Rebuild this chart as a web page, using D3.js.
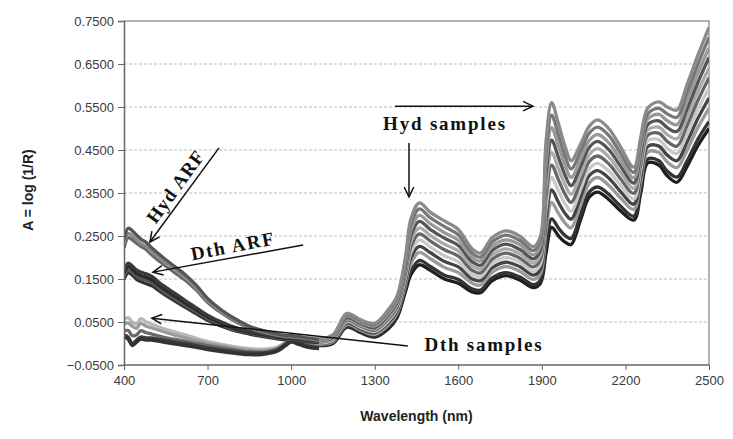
<!DOCTYPE html>
<html><head><meta charset="utf-8">
<script src="https://cdn.jsdelivr.net/npm/d3@7"></script>
<style>body{margin:0;background:#fff}svg{display:block}</style>
</head><body>
<svg id="c" width="733" height="439"></svg>
<script>
// ---- axis ticks ----
const xTicks = [400,700,1000,1300,1600,1900,2200,2500];
const yTicks = [-0.05,0.05,0.15,0.25,0.35,0.45,0.55,0.65,0.75];

// ---- wavelength grids (nm) ----
const wlLeft = [400,415,430,445,460,480,500,540,580,620,660,700,750,800,850,900,950,980,1000,1030,1060,1100];
const wlHyd = [1100,1150,1200,1250,1300,1350,1380,1410,1430,1460,1500,1550,1600,1650,1680,1720,1770,1820,1870,1895,1915,1935,1960,1985,2005,2040,2070,2100,2140,2180,2230,2255,2280,2320,2350,2385,2420,2460,2500];

// ---- Hyd ARF spectra ----
const hydArf1 = [0.240,0.268,0.262,0.252,0.243,0.235,0.222,0.200,0.180,0.160,0.135,0.105,0.078,0.057,0.040,0.030,0.022,0.019,0.018,0.016,0.013,0.010];
const hydArf2 = [0.230,0.256,0.250,0.241,0.233,0.225,0.213,0.192,0.172,0.153,0.129,0.100,0.074,0.054,0.038,0.028,0.020,0.017,0.016,0.014,0.012,0.008];
const hydArf3 = [0.222,0.246,0.241,0.233,0.226,0.218,0.206,0.185,0.166,0.147,0.124,0.096,0.071,0.051,0.036,0.026,0.019,0.016,0.015,0.013,0.010,0.007];
// ---- Dth ARF spectra ----
const dthArf1 = [0.170,0.187,0.180,0.171,0.166,0.162,0.156,0.135,0.118,0.100,0.083,0.066,0.050,0.037,0.028,0.022,0.017,0.015,0.014,0.012,0.010,0.008];
const dthArf2 = [0.163,0.179,0.173,0.163,0.158,0.154,0.148,0.128,0.111,0.094,0.078,0.062,0.047,0.034,0.026,0.020,0.015,0.013,0.012,0.010,0.008,0.006];
const dthArf3 = [0.156,0.171,0.166,0.156,0.151,0.147,0.141,0.122,0.105,0.089,0.073,0.058,0.044,0.031,0.024,0.018,0.013,0.011,0.010,0.008,0.006,0.004];
const dthArf4 = [0.149,0.164,0.159,0.149,0.144,0.139,0.134,0.116,0.100,0.084,0.069,0.054,0.040,0.029,0.022,0.016,0.011,0.009,0.008,0.006,0.004,0.002];
// ---- Dth samples ----
const dthS1 = [0.055,0.060,0.050,0.045,0.058,0.050,0.045,0.035,0.028,0.020,0.012,0.005,-0.002,-0.008,-0.012,-0.013,-0.008,0.003,0.010,0.005,0.000,-0.003];
const dthS2 = [0.045,0.048,0.040,0.035,0.047,0.040,0.036,0.028,0.020,0.013,0.006,0.000,-0.006,-0.012,-0.016,-0.017,-0.011,0.001,0.009,0.003,-0.003,-0.006];
const dthS3 = [0.030,0.030,0.018,0.020,0.030,0.025,0.022,0.015,0.010,0.005,0.000,-0.005,-0.010,-0.015,-0.019,-0.020,-0.013,0.000,0.008,0.002,-0.004,-0.008];
const dthS4 = [0.020,0.015,0.000,0.008,0.015,0.013,0.013,0.008,0.004,0.000,-0.005,-0.010,-0.015,-0.019,-0.022,-0.022,-0.015,-0.002,0.006,0.000,-0.006,-0.010];
const dthS5 = [0.015,0.010,-0.005,0.003,0.010,0.008,0.008,0.003,-0.001,-0.005,-0.009,-0.014,-0.019,-0.023,-0.026,-0.025,-0.018,-0.005,0.003,-0.003,-0.009,-0.012];
// ---- Hyd samples ----
const hyd1 = [0.010,0.020,0.070,0.055,0.047,0.080,0.110,0.200,0.290,0.327,0.305,0.285,0.265,0.220,0.210,0.245,0.262,0.250,0.225,0.250,0.470,0.560,0.510,0.455,0.425,0.465,0.505,0.520,0.500,0.460,0.410,0.480,0.547,0.562,0.550,0.543,0.600,0.670,0.735];
const hyd2 = [0.009,0.018,0.067,0.052,0.044,0.076,0.105,0.192,0.277,0.313,0.292,0.272,0.253,0.210,0.201,0.235,0.252,0.240,0.216,0.239,0.444,0.531,0.484,0.433,0.406,0.448,0.489,0.503,0.484,0.445,0.398,0.467,0.534,0.547,0.534,0.526,0.581,0.649,0.712];
const hyd3 = [0.007,0.016,0.064,0.049,0.041,0.071,0.100,0.184,0.264,0.298,0.278,0.258,0.240,0.200,0.192,0.225,0.241,0.230,0.206,0.228,0.418,0.502,0.458,0.411,0.386,0.430,0.472,0.486,0.467,0.430,0.385,0.454,0.522,0.533,0.518,0.509,0.562,0.628,0.688];
const hyd4 = [0.006,0.014,0.060,0.046,0.037,0.067,0.095,0.176,0.251,0.284,0.265,0.245,0.228,0.190,0.182,0.215,0.231,0.219,0.197,0.217,0.392,0.473,0.432,0.389,0.367,0.413,0.456,0.470,0.451,0.415,0.373,0.441,0.509,0.518,0.502,0.493,0.543,0.607,0.665];
const hyd5 = [0.004,0.012,0.057,0.043,0.034,0.062,0.090,0.168,0.238,0.269,0.251,0.231,0.215,0.180,0.173,0.205,0.220,0.209,0.187,0.206,0.366,0.444,0.406,0.367,0.347,0.395,0.439,0.453,0.434,0.400,0.361,0.428,0.496,0.503,0.486,0.476,0.524,0.586,0.641];
const hyd6 = [0.003,0.010,0.054,0.040,0.031,0.058,0.085,0.160,0.225,0.255,0.238,0.218,0.203,0.170,0.164,0.195,0.210,0.199,0.178,0.195,0.340,0.415,0.380,0.345,0.328,0.378,0.423,0.436,0.418,0.385,0.349,0.415,0.484,0.489,0.470,0.459,0.505,0.565,0.618];
const hyd7 = [0.001,0.008,0.051,0.037,0.028,0.053,0.080,0.152,0.212,0.241,0.224,0.204,0.190,0.160,0.155,0.185,0.200,0.189,0.168,0.184,0.314,0.386,0.354,0.323,0.308,0.360,0.406,0.419,0.401,0.370,0.336,0.402,0.471,0.474,0.454,0.442,0.486,0.544,0.594];
const hyd8 = [0.000,0.006,0.048,0.034,0.025,0.049,0.075,0.144,0.199,0.226,0.211,0.191,0.178,0.150,0.146,0.175,0.189,0.179,0.159,0.173,0.288,0.357,0.328,0.301,0.289,0.343,0.390,0.402,0.385,0.355,0.324,0.389,0.458,0.459,0.438,0.425,0.467,0.523,0.571];
const hyd9 = [-0.002,0.004,0.044,0.031,0.021,0.044,0.070,0.136,0.186,0.212,0.197,0.177,0.165,0.140,0.136,0.165,0.179,0.168,0.149,0.162,0.262,0.328,0.302,0.279,0.269,0.325,0.373,0.386,0.368,0.340,0.312,0.376,0.445,0.444,0.422,0.409,0.448,0.502,0.547];
const hyd10 = [-0.004,0.001,0.040,0.027,0.017,0.038,0.063,0.126,0.169,0.193,0.179,0.159,0.149,0.127,0.124,0.152,0.165,0.155,0.137,0.148,0.228,0.290,0.268,0.250,0.244,0.302,0.352,0.364,0.347,0.321,0.296,0.359,0.429,0.425,0.401,0.387,0.423,0.475,0.516];
const hyd11 = [-0.005,0.000,0.038,0.025,0.015,0.035,0.060,0.120,0.160,0.183,0.170,0.150,0.140,0.120,0.118,0.145,0.158,0.148,0.130,0.140,0.210,0.270,0.250,0.235,0.230,0.290,0.340,0.352,0.335,0.310,0.287,0.350,0.420,0.415,0.390,0.375,0.410,0.460,0.500];

const svg = d3.select("#c");
const L=124,R=709,T=21,B=365;
const x = d3.scaleLinear().domain([400,2500]).range([L,R]);
const y = d3.scaleLinear().domain([-0.05,0.75]).range([B,T]);

// grid
svg.append("g").selectAll("line").data(yTicks.filter(v=>v>-0.05 && v<0.75)).join("line")
  .attr("x1",L).attr("x2",R).attr("y1",d=>y(d)).attr("y2",d=>y(d))
  .attr("stroke","#bdbdbd").attr("stroke-width",1).attr("stroke-dasharray","3,2");
// frame top/right
svg.append("path").attr("d",`M${L},${T}H${R}V${B}`).attr("fill","none").attr("stroke","#9a9a9a").attr("stroke-width",1.5);

svg.append("defs").append("clipPath").attr("id","cp").append("rect")
  .attr("x",L).attr("y",T).attr("width",R-L).attr("height",B-T);
const plot = svg.append("g").attr("clip-path","url(#cp)");
const line = d3.line().x(d=>x(d[0])).y(d=>y(d[1])).curve(d3.curveCatmullRom.alpha(0.5));

const series = [
  {wl:wlLeft, v:dthS1, c:"#b8b8b8"},
  {wl:wlLeft, v:dthS2, c:"#9a9a9a"},
  {wl:wlLeft, v:dthS3, c:"#6a6a6a"},
  {wl:wlLeft, v:dthS4, c:"#3c3c3c"},
  {wl:wlLeft, v:dthS5, c:"#333333"},
  {wl:wlLeft, v:dthArf4, c:"#333333"},
  {wl:wlLeft, v:dthArf3, c:"#555555"},
  {wl:wlLeft, v:dthArf2, c:"#2a2a2a"},
  {wl:wlLeft, v:dthArf1, c:"#3a3a3a"},
  {wl:wlLeft, v:hydArf3, c:"#666666"},
  {wl:wlLeft, v:hydArf2, c:"#8a8a8a"},
  {wl:wlLeft, v:hydArf1, c:"#555555"},
  {wl:wlHyd, v:hyd11, c:"#1e1e1e"},
  {wl:wlHyd, v:hyd10, c:"#333333"},
  {wl:wlHyd, v:hyd9, c:"#9a9a9a"},
  {wl:wlHyd, v:hyd8, c:"#444444"},
  {wl:wlHyd, v:hyd7, c:"#c8c8c8"},
  {wl:wlHyd, v:hyd6, c:"#666666"},
  {wl:wlHyd, v:hyd5, c:"#aaaaaa"},
  {wl:wlHyd, v:hyd4, c:"#555555"},
  {wl:wlHyd, v:hyd3, c:"#999999"},
  {wl:wlHyd, v:hyd2, c:"#777777"},
  {wl:wlHyd, v:hyd1, c:"#8a8a8a"}
];
plot.selectAll("path.s").data(series).join("path").attr("class","s")
  .attr("d",s=>line(s.wl.map((w,i)=>[w,s.v[i]])))
  .attr("fill","none").attr("stroke",s=>s.c).attr("stroke-width",3.3).attr("stroke-linejoin","round");

// axes
const ya = svg.append("g").attr("transform",`translate(${L},0)`)
  .call(d3.axisLeft(y).tickValues(yTicks).tickFormat(d3.format(".4f")).tickSizeOuter(0).tickSize(6).tickPadding(4));
const xa = svg.append("g").attr("transform",`translate(0,${B})`)
  .call(d3.axisBottom(x).tickValues(xTicks).tickFormat(d3.format("d")).tickSizeOuter(0).tickSize(5).tickPadding(6));
[ya,xa].forEach(a=>{
  a.select(".domain").attr("stroke","#666").attr("stroke-width",1.5);
  a.selectAll(".tick line").attr("stroke","#666");
  a.selectAll("text").attr("font-family","'Liberation Sans',Arial,sans-serif").attr("font-size",13).attr("fill","#3a3a3a");
});
xa.select(".domain").attr("d",`M${L},0H${R}`);

svg.append("text").attr("x",(L+R)/2).attr("y",421).attr("text-anchor","middle")
  .attr("font-family","'Liberation Sans',Arial,sans-serif").attr("font-weight","bold").attr("font-size",14).attr("fill","#222")
  .text("Wavelength (nm)");
svg.append("text").attr("transform","translate(33,190) rotate(-90)").attr("text-anchor","middle")
  .attr("font-family","'Liberation Sans',Arial,sans-serif").attr("font-weight","bold").attr("font-size",14).attr("fill","#222")
  .text("A = log (1/R)");

// annotations (data coordinates)
const arrows = [
  {from:[741,0.455], to:[493,0.236]},
  {from:[1043,0.229], to:[504,0.166]},
  {from:[1419,-0.006], to:[500,0.059]},
  {from:[1373,0.552], to:[1868,0.552]},
  {from:[1423,0.466], to:[1423,0.341]}
];
const ann = svg.append("g");
arrows.forEach(a=>{
  const x1=x(a.from[0]), y1=y(a.from[1]), x2=x(a.to[0]), y2=y(a.to[1]);
  ann.append("line").attr("x1",x1).attr("y1",y1).attr("x2",x2).attr("y2",y2).attr("stroke","#111").attr("stroke-width",1.5);
  const ang=Math.atan2(y2-y1,x2-x1), len=11, sp=0.45;
  const p1=[x2-len*Math.cos(ang-sp), y2-len*Math.sin(ang-sp)];
  const p2=[x2-len*Math.cos(ang+sp), y2-len*Math.sin(ang+sp)];
  ann.append("path").attr("d",`M${p1}L${x2},${y2}L${p2}`).attr("fill","none").attr("stroke","#111").attr("stroke-width",1.5);
});
const labels = [
  {t:"Hyd ARF", p:[583,0.364], r:-54, len:84},
  {t:"Dth ARF", p:[788,0.227], r:-11, len:84},
  {t:"Hyd samples", p:[1549,0.513], r:0, len:122},
  {t:"Dth samples", p:[1689,-0.003], r:0, len:117}
];
labels.forEach(l=>{
  ann.append("text").attr("transform",`translate(${x(l.p[0])},${y(l.p[1])}) rotate(${l.r})`)
    .attr("text-anchor","middle").attr("dy","0.35em")
    .attr("font-family","'Liberation Serif','Times New Roman',serif").attr("font-weight","bold").attr("font-size",19).attr("fill","#111")
    .attr("textLength",l.len).attr("lengthAdjust","spacing").text(l.t);
});
</script>
</body></html>
